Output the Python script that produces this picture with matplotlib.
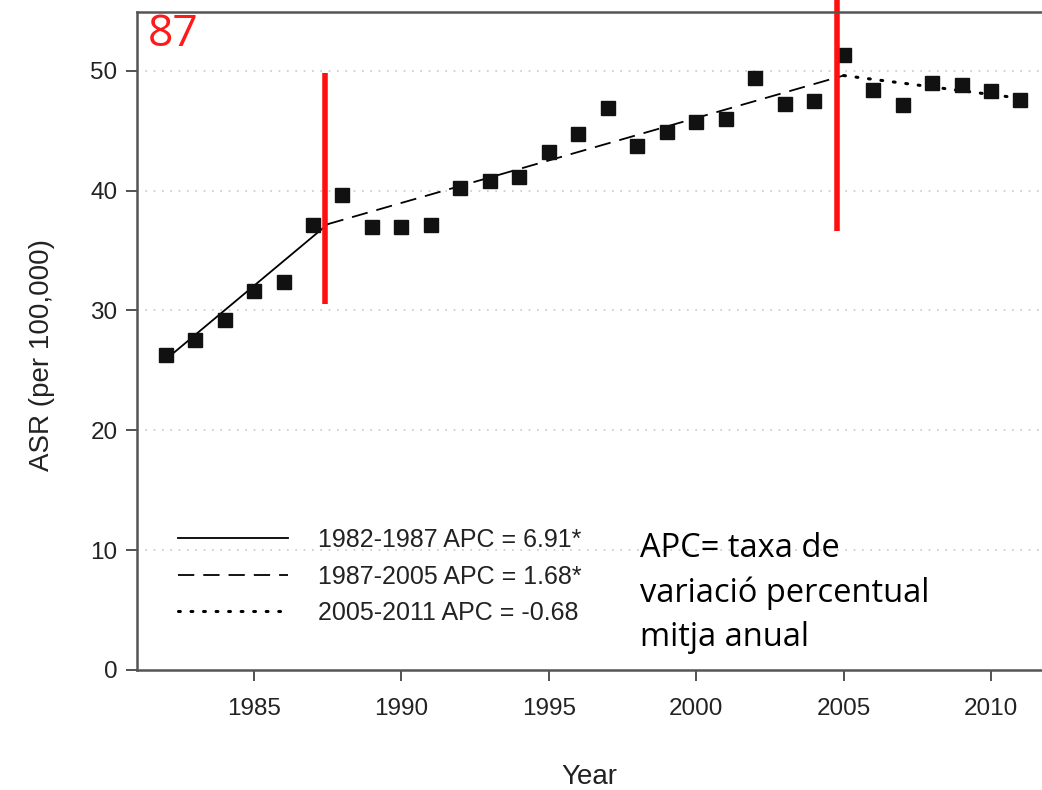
import matplotlib
matplotlib.use('Agg')
import matplotlib.pyplot as plt
from matplotlib.lines import Line2D

# observed ASR per year
years = list(range(1982, 2012))
asr = [26.3, 27.5, 29.2, 31.6, 32.4, 37.1, 39.6, 37.0, 37.0, 37.1,
       40.2, 40.8, 41.1, 43.2, 44.7, 46.9, 43.7, 44.9, 45.7, 46.0,
       49.4, 47.2, 47.5, 51.3, 48.4, 47.1, 49.0, 48.8, 48.3, 47.6]

# joinpoint fitted segments
seg1_x = [1982, 1987.5]
seg1_y = [25.9, 37.2]
seg2_x = [1987.5, 2005]
seg2_y = [37.2, 49.6]
seg3_x = [2005, 2011]
seg3_y = [49.6, 47.7]

legend_labels = ['1982-1987 APC = 6.91*',
                 '1987-2005 APC = 1.68*',
                 '2005-2011 APC = -0.68']

xticks = [1985, 1990, 1995, 2000, 2005, 2010]
yticks = [0, 10, 20, 30, 40, 50]

plt.rcParams['font.family'] = ['Liberation Sans', 'DejaVu Sans']

fig = plt.figure(figsize=(10.42, 7.90), dpi=100)
ax = fig.add_axes([0.1315, 0.1519, 0.8685, 0.8329])

# dotted gridlines
for yv in yticks[1:]:
    ax.axhline(yv, color='#c8c8c8', linestyle=(0, (1, 4)), linewidth=1.2, zorder=0)

ax.plot(seg1_x, seg1_y, color='black', linewidth=1.3, linestyle='-')
ax.plot(seg2_x, seg2_y, color='black', linewidth=1.3, linestyle=(0, (9, 5)))
ax.plot(seg3_x, seg3_y, color='black', linewidth=2.2, linestyle=(0, (0.6, 3.5)),
        dash_capstyle='round')
ax.plot(years, asr, linestyle='none', marker='s', markersize=9.5, color='#111111')

ax.set_xlim(1981.03, 2011.73)
ax.set_ylim(0, 54.9)
ax.set_xticks(xticks)
ax.set_yticks(yticks)
ax.tick_params(direction='out', length=8, width=1.3, colors='#444444',
               labelsize=17.5, labelcolor='#222222', pad=6)
ax.tick_params(axis='x', pad=12)
for side in ['left', 'bottom', 'top']:
    ax.spines[side].set_color('#555555')
    ax.spines[side].set_linewidth(1.8)
ax.spines['right'].set_visible(False)

ax.set_xlabel('Year', fontsize=20, color='#222222', labelpad=32)
ax.set_ylabel('ASR (per 100,000)', fontsize=20, color='#222222')
ax.yaxis.set_label_coords(-0.091, 0.479)

handles = [Line2D([], [], color='black', linewidth=1.3, linestyle='-'),
           Line2D([], [], color='black', linewidth=1.3, linestyle=(0, (9, 5))),
           Line2D([], [], color='black', linewidth=2.2, linestyle=(0, (0.6, 3.5)),
                  dash_capstyle='round')]
ax.legend(handles, legend_labels, loc='lower left', bbox_to_anchor=(0.02, 0.034),
          frameon=False, fontsize=18, handlelength=4.4, handletextpad=1.2,
          labelspacing=0.5, labelcolor='#222222')

# annotations added on top of the chart
ax.text(0.556, 0.117, 'APC= taxa de\nvariació percentual\nmitja anual',
        transform=ax.transAxes, fontsize=23.5, family=['Open Sans', 'DejaVu Sans'],
        color='black', ha='left', va='center', linespacing=1.43)
ax.text(0.012, 1.0, '87', transform=ax.transAxes, fontsize=32,
        family=['Open Sans', 'DejaVu Sans'], color='#ff1a1a', ha='left', va='top')
ax.plot([1987.41, 1987.41], [30.5, 49.8], color='#ff1010', linewidth=4,
        solid_capstyle='butt', clip_on=False)
ax.plot([2004.79, 2004.79], [36.6, 56.5], color='#ff1010', linewidth=4,
        solid_capstyle='butt', clip_on=False)

fig.savefig('out.png', dpi=100)
